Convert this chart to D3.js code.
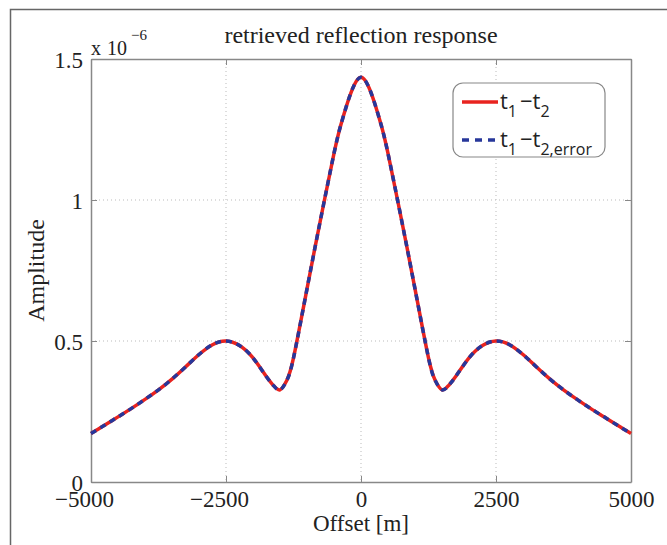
<!DOCTYPE html>
<head>
    <script src="https://d3js.org/d3.v7.min.js"></script>
    <style>
      body { margin: 0; background: #fff; }
      text { font-family: "Liberation Serif", "Times New Roman", serif; fill: #222; }
      .leg text { font-family: "Open Sans", "DejaVu Sans", sans-serif; }
    </style>
</head>

<body>
    <div id="chart"></div>
</body>

<script>

  // offset [m] and amplitude (x 10^-6)
  const offsets = [-5000, -4750, -4500, -4250, -4000, -3750, -3500, -3250, -3000, -2750,
    -2500, -2250, -2000, -1750, -1625, -1500, -1375, -1250, -1000, -750, -500, -375, -250, -125,
    0, 125, 250, 375, 500, 750, 1000, 1250, 1375, 1500, 1625, 1750, 2000, 2250,
    2500, 2750, 3000, 3250, 3500, 3750, 4000, 4250, 4500, 4750, 5000];
  const amplitude = [0.172, 0.201, 0.231, 0.261, 0.293, 0.327, 0.365, 0.408, 0.452, 0.487,
    0.500, 0.484, 0.440, 0.373, 0.343, 0.327, 0.360, 0.440, 0.685, 0.930, 1.165, 1.265, 1.345, 1.408,
    1.435, 1.408, 1.345, 1.265, 1.165, 0.930, 0.685, 0.440, 0.360, 0.327, 0.343, 0.373, 0.440, 0.484,
    0.500, 0.487, 0.452, 0.408, 0.365, 0.327, 0.293, 0.261, 0.231, 0.201, 0.172];
  const amplitudeError = amplitude.slice();

  const xTicks = [-5000, -2500, 0, 2500, 5000];
  const yTicks = [0, 0.5, 1, 1.5];

  const W = 667, H = 545;
  const margin = {top: 59, right: 36, bottom: 63, left: 91},
    width = W - margin.left - margin.right,
    height = H - margin.top - margin.bottom;

  const svg = d3.select("#chart").append("svg")
    .attr("width", W).attr("height", H);

  // outer figure frame
  svg.append("path")
    .attr("d", `M10.5,${H} L10.5,9.5 L${W},9.5`)
    .attr("fill", "none").attr("stroke", "#666").attr("stroke-width", 1.5);

  const g = svg.append("g").attr("transform", `translate(${margin.left}, ${margin.top})`);

  const x = d3.scaleLinear().domain([-5000, 5000]).range([0, width]);
  const y = d3.scaleLinear().domain([0, 1.5]).range([height, 0]);

  // grid
  g.append("g").selectAll("line")
    .data(xTicks.slice(1, -1)).join("line")
    .attr("x1", d => x(d)).attr("x2", d => x(d))
    .attr("y1", 0).attr("y2", height)
    .attr("stroke", "#bbb").attr("stroke-dasharray", "1,3");
  g.append("g").selectAll("line")
    .data(yTicks.slice(1, -1)).join("line")
    .attr("y1", d => y(d)).attr("y2", d => y(d))
    .attr("x1", 0).attr("x2", width)
    .attr("stroke", "#bbb").attr("stroke-dasharray", "1,3");

  // axes (ticks inward, box all round)
  const fmtX = d => d < 0 ? "\u2212" + Math.abs(d) : d;
  const axB = g.append("g").attr("transform", `translate(0, ${height})`)
    .call(d3.axisBottom(x).tickValues(xTicks).tickSizeInner(-6).tickSizeOuter(0).tickPadding(9).tickFormat(fmtX));
  const axT = g.append("g")
    .call(d3.axisTop(x).tickValues(xTicks).tickSizeInner(-6).tickSizeOuter(0).tickFormat(""));
  const axL = g.append("g")
    .call(d3.axisLeft(y).tickValues(yTicks).tickSizeInner(-6).tickSizeOuter(0).tickPadding(8).tickFormat(d3.format("")));
  const axR = g.append("g").attr("transform", `translate(${width}, 0)`)
    .call(d3.axisRight(y).tickValues(yTicks).tickSizeInner(-6).tickSizeOuter(0).tickFormat(""));
  [axB, axT, axL, axR].forEach(a => {
    a.select(".domain").attr("stroke", "#888").attr("stroke-width", 1.5);
    a.selectAll(".tick line").attr("stroke", "#888");
    a.selectAll("text").style("font-size", "23px")
      .style("font-family", "'Liberation Serif', serif").attr("fill", "#222");
  });
  axB.selectAll("text").attr("dy", "0.71em")
    .attr("dx", d => d < 0 ? "-0.3em" : 0);
  axL.selectAll("text").attr("dy", "0.35em");

  // curves
  const pts = offsets.map((o, i) => [o, amplitude[i]]);
  const ptsErr = offsets.map((o, i) => [o, amplitudeError[i]]);
  const line = d3.line().x(d => x(d[0])).y(d => y(d[1])).curve(d3.curveNatural);

  g.append("path").datum(pts).attr("d", line)
    .attr("fill", "none").attr("stroke", "#e8231f").attr("stroke-width", 3.5);
  g.append("path").datum(ptsErr).attr("d", line)
    .attr("fill", "none").attr("stroke", "#27379a").attr("stroke-width", 3.5)
    .attr("stroke-dasharray", "6,5");

  // title and labels
  svg.append("text").attr("x", margin.left + width / 2).attr("y", 43)
    .attr("text-anchor", "middle").style("font-size", "24px")
    .text("retrieved reflection response");
  const mult = svg.append("text").attr("x", margin.left).attr("y", 55).style("font-size", "20px");
  mult.append("tspan").text("x");
  mult.append("tspan").attr("dx", 6).text("10");
  mult.append("tspan").attr("dx", 4).attr("dy", -15).style("font-size", "15px").text("\u22126");

  svg.append("text").attr("x", margin.left + width / 2).attr("y", 531)
    .attr("text-anchor", "middle").style("font-size", "23px").text("Offset [m]");
  svg.append("text").attr("transform", `translate(44, ${margin.top + height / 2}) rotate(-90)`)
    .attr("text-anchor", "middle").style("font-size", "24px").text("Amplitude");

  // legend
  const leg = svg.append("g").attr("class", "leg").attr("transform", "translate(453, 83)");
  leg.append("rect").attr("width", 152).attr("height", 74).attr("rx", 10)
    .attr("fill", "#fff").attr("stroke", "#888").attr("stroke-width", 1.2);
  const items = [
    {sub2: "2", color: "#e8231f", dash: null, y: 19},
    {sub2: "2,error", color: "#27379a", dash: "7,6", y: 57}
  ];
  items.forEach(it => {
    leg.append("line").attr("x1", 9).attr("x2", 45).attr("y1", it.y).attr("y2", it.y)
      .attr("stroke", it.color).attr("stroke-width", 3.5).attr("stroke-dasharray", it.dash);
    const t = leg.append("text").attr("x", 47).attr("y", it.y + 7).style("font-size", "22px");
    t.append("tspan").text("t");
    t.append("tspan").attr("dy", 8).style("font-size", "16px").text("1");
    t.append("tspan").attr("dy", -8).attr("dx", 3).text("\u2212t");
    t.append("tspan").attr("dy", 8).style("font-size", "16px").text(it.sub2);
  });

</script>
